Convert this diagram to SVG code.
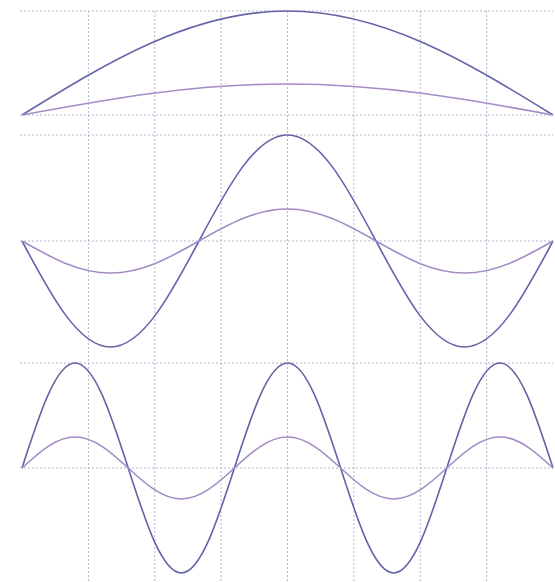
<svg xmlns="http://www.w3.org/2000/svg" width="555" height="582" viewBox="0 0 555 582">
<style>
.grid{stroke:#b4b4cc;stroke-width:1;stroke-dasharray:2 2;fill:none}
.big{stroke:#6464a8;stroke-width:1.6;fill:none}
.small{stroke:#a48cc4;stroke-width:1.6;fill:none}
</style>
<rect width="555" height="582" fill="#ffffff"/>
<g id="grid">
<line class="grid" x1="20" y1="11" x2="553" y2="11"/>
<line class="grid" x1="20" y1="115" x2="553" y2="115"/>
<line class="grid" x1="20" y1="135" x2="553" y2="135"/>
<line class="grid" x1="20" y1="241" x2="553" y2="241"/>
<line class="grid" x1="20" y1="363" x2="553" y2="363"/>
<line class="grid" x1="20" y1="468" x2="553" y2="468"/>
<line class="grid" x1="88.4" y1="11" x2="88.4" y2="582"/>
<line class="grid" x1="154.8" y1="11" x2="154.8" y2="582"/>
<line class="grid" x1="221.1" y1="11" x2="221.1" y2="582"/>
<line class="grid" x1="287.5" y1="11" x2="287.5" y2="582"/>
<line class="grid" x1="353.9" y1="11" x2="353.9" y2="582"/>
<line class="grid" x1="420.3" y1="11" x2="420.3" y2="582"/>
<line class="grid" x1="486.6" y1="11" x2="486.6" y2="582"/>
</g>
<g id="mode1">
<path class="big" d="M22,115 C108.58,61.72 191.42,11 287.5,11 C383.58,11 466.42,61.72 553,115"/>
<path class="small" d="M22,115 C108.58,99.12 191.42,84 287.5,84 C383.58,84 466.42,99.12 553,115"/>
</g>
<g id="mode3">
<path class="big" d="M22,241 C50.86,295.3 78.47,347 110.5,347 C142.53,347 170.14,295.3 199,241 C227.86,186.7 255.47,135 287.5,135 C319.53,135 347.14,186.7 376,241 C404.86,295.3 432.47,347 464.5,347 C496.53,347 524.14,295.3 553,241"/>
<path class="small" d="M22,241 C50.86,257.39 78.47,273 110.5,273 C142.53,273 170.14,257.39 199,241 C227.86,224.61 255.47,209 287.5,209 C319.53,209 347.14,224.61 376,241 C404.86,257.39 432.47,273 464.5,273 C496.53,273 524.14,257.39 553,241"/>
</g>
<g id="mode5">
<path class="big" d="M22,468 C39.32,414.21 55.88,363 75.1,363 C94.32,363 110.88,414.21 128.2,468 C145.52,521.79 162.08,573 181.3,573 C200.52,573 217.08,521.79 234.4,468 C251.72,414.21 268.28,363 287.5,363 C306.72,363 323.28,414.21 340.6,468 C357.92,521.79 374.48,573 393.7,573 C412.92,573 429.48,521.79 446.8,468 C464.12,414.21 480.68,363 499.9,363 C519.12,363 535.68,414.21 553,468"/>
<path class="small" d="M22,468 C39.32,452.12 55.88,437 75.1,437 C94.32,437 110.88,452.12 128.2,468 C145.52,483.88 162.08,499 181.3,499 C200.52,499 217.08,483.88 234.4,468 C251.72,452.12 268.28,437 287.5,437 C306.72,437 323.28,452.12 340.6,468 C357.92,483.88 374.48,499 393.7,499 C412.92,499 429.48,483.88 446.8,468 C464.12,452.12 480.68,437 499.9,437 C519.12,437 535.68,452.12 553,468"/>
</g>
</svg>
